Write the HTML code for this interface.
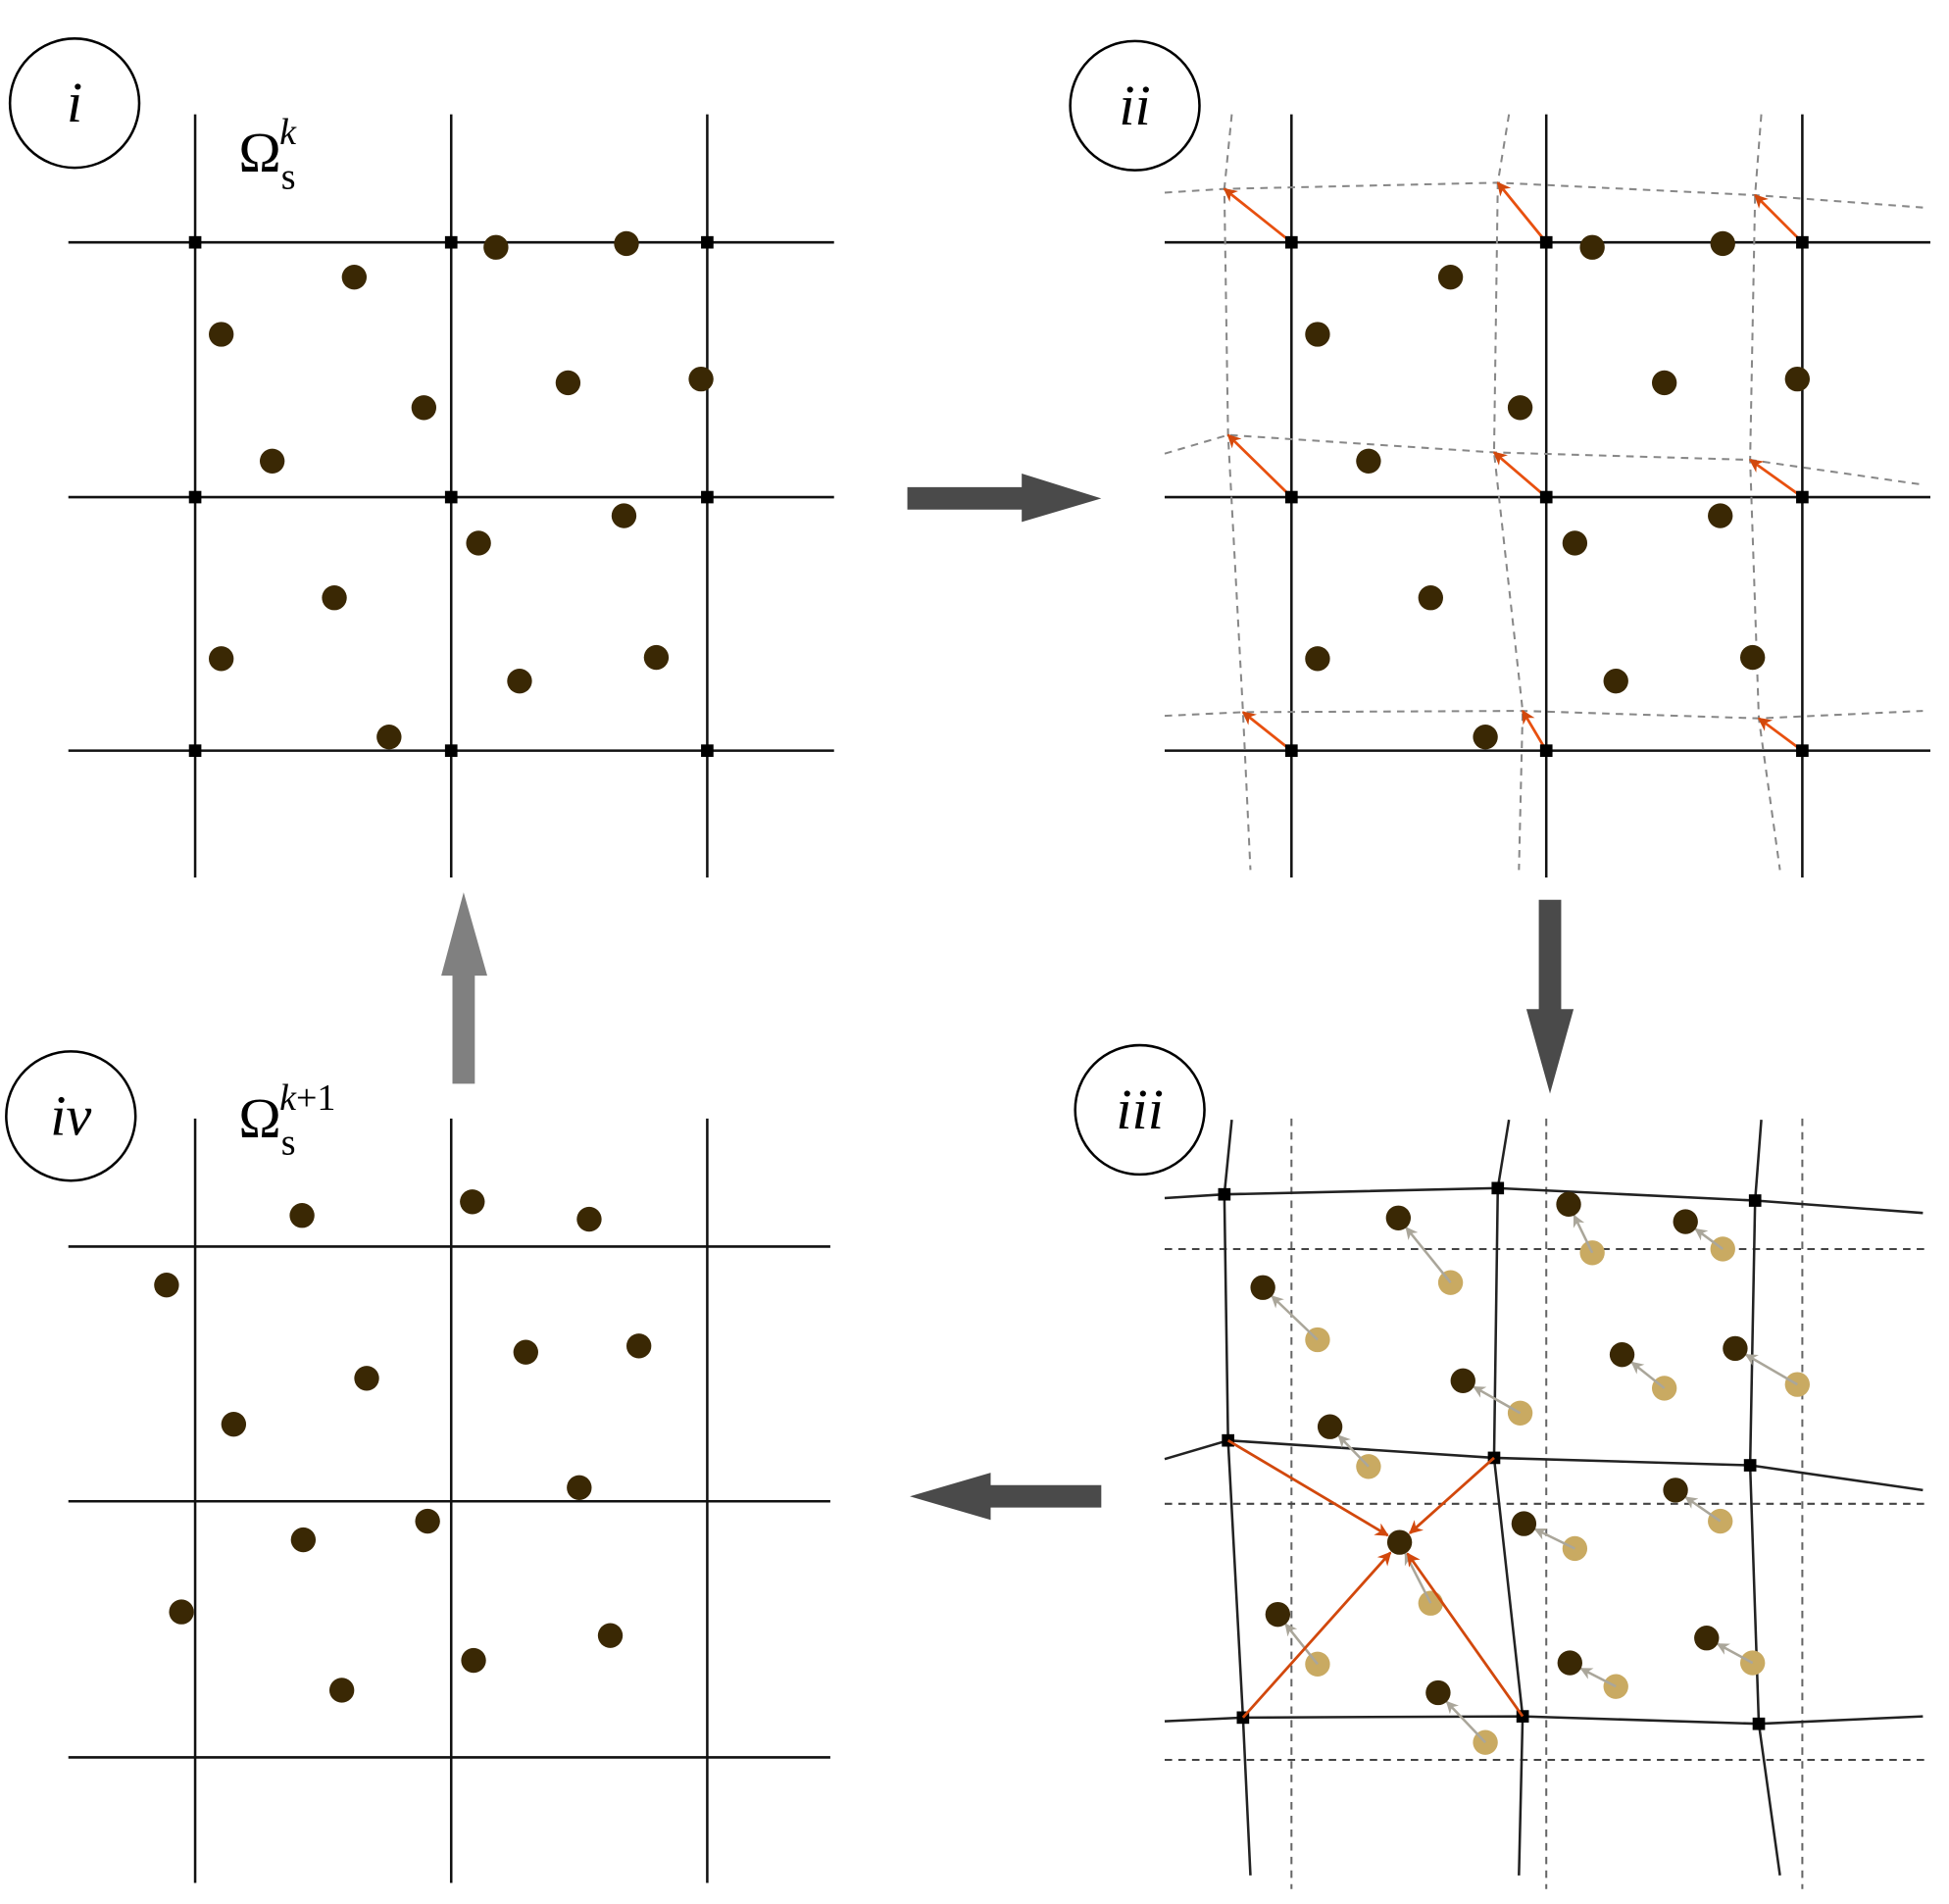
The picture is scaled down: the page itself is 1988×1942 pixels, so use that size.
<!DOCTYPE html>
<html><head><meta charset="utf-8"><style>html,body{margin:0;padding:0;background:#fff}svg{display:block}</style></head>
<body>
<svg id="fig" xmlns="http://www.w3.org/2000/svg" width="1988" height="1942" viewBox="0 0 1568 1532" preserveAspectRatio="none">
<defs>
<marker id="oh" viewBox="0 0 10 10" refX="9" refY="5" markerWidth="5" markerHeight="5" orient="auto"><path d="M0,0L10,5L0,10L3,5z" fill="#d2480c"/></marker>
<marker id="gh" viewBox="0 0 10 10" refX="9" refY="5" markerWidth="5" markerHeight="5" orient="auto"><path d="M0,0L10,5L0,10L3,5z" fill="#aaa69a"/></marker>
</defs>
<g id="layer"></g>
<g font-family="Liberation Serif, serif" font-style="italic" fill="#000">
<circle cx="60" cy="83" r="52" fill="none" stroke="#000" stroke-width="2"/>
<text x="60" y="98" font-size="46" text-anchor="middle">i</text>
<circle cx="913" cy="85" r="52" fill="none" stroke="#000" stroke-width="2"/>
<text x="913" y="100" font-size="46" text-anchor="middle">ii</text>
<circle cx="917" cy="893" r="52" fill="none" stroke="#000" stroke-width="2"/>
<text x="917" y="908" font-size="46" text-anchor="middle">iii</text>
<circle cx="57" cy="898" r="52" fill="none" stroke="#000" stroke-width="2"/>
<text x="57" y="913" font-size="46" text-anchor="middle">iv</text>
</g>
<g font-family="Liberation Serif, serif" fill="#000">
<text x="192" y="138" font-size="46">Ω<tspan font-size="30" dy="14">s</tspan><tspan font-size="30" font-style="italic" dx="-13" dy="-36">k</tspan></text>
<text x="192" y="915" font-size="46">Ω<tspan font-size="30" dy="14">s</tspan><tspan font-size="30" dx="-13" dy="-36"><tspan font-style="italic">k</tspan>+1</tspan></text>
</g>
<g>
<path d="M730,392H822V381L886,401L822,420V410H730Z" fill="#4a4a4a"/>
<path d="M1238,724H1256V812H1266L1247,880L1228,812H1238Z" fill="#4a4a4a"/>
<path d="M886,1195H797V1185L732,1204L797,1223V1213H886Z" fill="#4a4a4a"/>
<path d="M364,872V785H355L373,718L392,785H382V872Z" fill="#808080"/>
</g>
</svg>
<script>
// regular grid
const gridX = [157, 363, 569];
const gridYTop = [195, 400, 604];
const gridYBot = [1003, 1208, 1414];
const gridX2 = [1039, 1244, 1450];
// deformed node positions (panel ii frame)
const defNodesX = [[985,1205,1412],[988,1202,1408],[1000,1225,1415]];
const defNodesY = [[152,147,157],[350,364,370],[573,572,578]];
const defRowEndsX = [937, 1547];
const defRowStartY = [155, 365, 576];
const defRowEndY = [167, 390, 572];
const defColTopX = [991, 1214, 1417];
const defColBotX = [1006, 1222, 1432];
const defColTopY = 92, defColBotY = 700;
const panelIIIShift = 809;
// particles (original positions, panel i frame)
const origX = [285,178,341,219,399,504,457,564,385,502,269,178,418,528,313];
const origY = [223,269,328,371,199,196,308,305,437,415,481,530,548,529,593];
// updated particles (panel iii frame)
const newX = [1125,1016,1177,1070,1262,1356,1305,1396,1226,1348,1126,1028,1263,1373,1157];
const newY = [980,1036,1111,1148,969,983,1090,1085,1226,1199,1241,1299,1338,1318,1362];
const shiftX = 882, shiftIIIy = 809, shiftIVy = -2;
const focusIdx = 10;

const NS = 'http://www.w3.org/2000/svg';
const L = document.getElementById('layer');
function mk(tag, attrs, name){
  const e = document.createElementNS(NS, tag);
  for (const k in attrs) e.setAttribute(k, attrs[k]);
  
  
  L.appendChild(e); return e;
}
function line(x1,y1,x2,y2,name,stroke,dash,w){
  const e = mk('line',{x1,y1,x2,y2,stroke,'stroke-width':w||2},name);
  if (dash) e.setAttribute('stroke-dasharray', dash);
  return e;
}
function poly(pts,name,stroke,dash,w){
  const e = mk('polyline',{points:pts.map(p=>p.join(',')).join(' '),fill:'none',stroke,'stroke-width':w||2},name);
  if (dash) e.setAttribute('stroke-dasharray', dash);
}
function node(x,y,name){ mk('rect',{x:x-5,y:y-5,width:10,height:10,fill:'#000'},name); }
function dot(x,y,name,fill){ mk('circle',{cx:x,cy:y,r:10,fill},name); }

// Panel i
gridX.forEach(x=>line(x,92,x,706,'panel-i-grid-vertical','#111'));
gridYTop.forEach(y=>line(55,y,671,y,'panel-i-grid-horizontal','#111'));
gridX.forEach(x=>gridYTop.forEach(y=>node(x,y,'panel-i-node')));
origX.forEach((x,i)=>dot(x,origY[i],'panel-i-particle','#3a2804'));

// Panel ii
function deformedGrid(dy, solid, prefix){
  const stroke = solid ? '#222' : '#888';
  const dash = solid ? null : '6,5';
  for (let r=0;r<3;r++){
    const pts=[[defRowEndsX[0],defRowStartY[r]+dy]];
    for (let c=0;c<3;c++) pts.push([defNodesX[r][c],defNodesY[r][c]+dy]);
    pts.push([defRowEndsX[1],defRowEndY[r]+dy]);
    poly(pts,prefix+'-deformed-row',stroke,dash,solid?2:1.6);
  }
  for (let c=0;c<3;c++){
    const pts=[[defColTopX[c],defColTopY+dy]];
    for (let r=0;r<3;r++) pts.push([defNodesX[r][c],defNodesY[r][c]+dy]);
    pts.push([defColBotX[c],defColBotY+dy]);
    poly(pts,prefix+'-deformed-column',stroke,dash,solid?2:1.6);
  }
}
gridX2.forEach(x=>line(x,92,x,706,'panel-ii-grid-vertical','#111'));
gridYTop.forEach(y=>line(937,y,1553,y,'panel-ii-grid-horizontal','#111'));
deformedGrid(0,false,'panel-ii');
gridX2.forEach((x,c)=>gridYTop.forEach((y,r)=>{
  const a=line(x,y,defNodesX[r][c],defNodesY[r][c],'panel-ii-displacement-arrow','#e8500f',null,2.2);
  a.setAttribute('marker-end','url(#oh)');
}));
gridX2.forEach(x=>gridYTop.forEach(y=>node(x,y,'panel-ii-node')));
origX.forEach((x,i)=>dot(x+shiftX,origY[i],'panel-ii-particle','#3a2804'));

// Panel iii
gridX2.forEach(x=>line(x,900,x,1520,'panel-iii-old-grid-vertical','#666','6,5',1.6));
gridYBot.forEach(y=>line(937,y+2,1553,y+2,'panel-iii-old-grid-horizontal','#444','6,5',1.6));
deformedGrid(panelIIIShift,true,'panel-iii');
for (let r=0;r<3;r++) for (let c=0;c<3;c++) node(defNodesX[r][c],defNodesY[r][c]+panelIIIShift,'panel-iii-node');
origX.forEach((x,i)=>{
  const ox=x+shiftX, oy=origY[i]+shiftIIIy;
  dot(ox,oy,'panel-iii-old-particle','#c9aa62');
  const dx=newX[i]-ox, dy=newY[i]-oy, d=Math.hypot(dx,dy);
  const a=line(ox,oy,newX[i]-dx/d*10,newY[i]-dy/d*10,'panel-iii-particle-move-arrow','#aaa69a',null,2);
  a.setAttribute('marker-end','url(#gh)');
});
[[1,0],[1,1],[2,0],[2,1]].forEach(([r,c])=>{
  const nx=defNodesX[r][c], ny=defNodesY[r][c]+panelIIIShift;
  const tx=newX[focusIdx], ty=newY[focusIdx];
  const dx=tx-nx, dy=ty-ny, d=Math.hypot(dx,dy);
  const a=line(nx,ny,tx-dx/d*11,ty-dy/d*11,'panel-iii-interpolation-arrow','#d2480c',null,2.2);
  a.setAttribute('marker-end','url(#oh)');
});
newX.forEach((x,i)=>dot(x,newY[i],'panel-iii-new-particle','#3a2804'));

// Panel iv
gridX.forEach(x=>line(x,900,x,1515,'panel-iv-grid-vertical','#111'));
gridYBot.forEach(y=>line(55,y,668,y,'panel-iv-grid-horizontal','#111'));
newX.forEach((x,i)=>dot(x-shiftX,newY[i]+shiftIVy,'panel-iv-particle','#3a2804'));
</script>
</body></html>
